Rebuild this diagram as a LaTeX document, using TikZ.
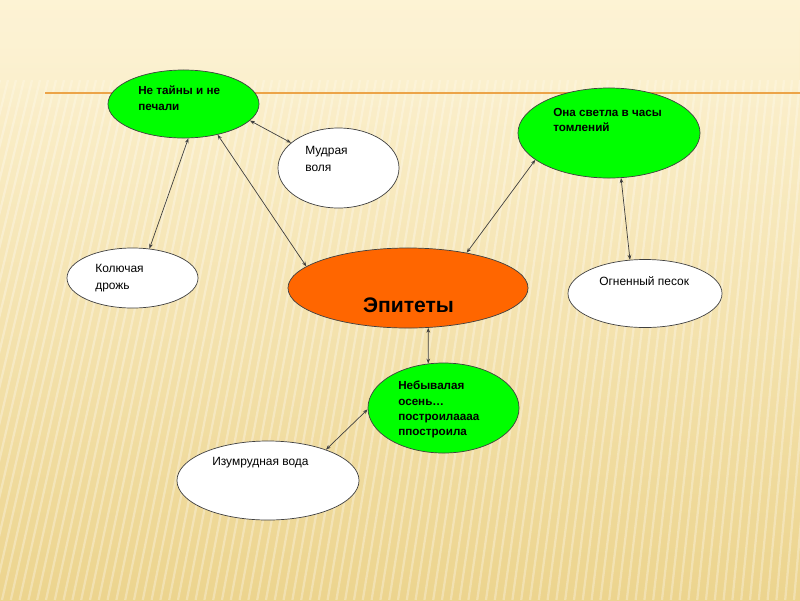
\documentclass[tikz,border=0pt]{standalone}
\usepackage{fontspec}
\setmainfont{Liberation Sans}
\usepackage{tikz}
\usetikzlibrary{arrows.meta,shapes.geometric,fadings}

\definecolor{paperTop}{RGB}{253,243,212}
\definecolor{paperBot}{RGB}{236,212,142}
\definecolor{ruleOrange}{RGB}{236,164,72}
\definecolor{leafGreen}{RGB}{0,255,0}
\definecolor{coreOrange}{RGB}{255,102,0}

\begin{document}
\begin{tikzpicture}[x=0.025cm, y=-0.025cm,
  ell/.style={ellipse, draw=black!75, line width=0.5pt, inner sep=0pt},
  grn/.style={ell, fill=leafGreen},
  wht/.style={ell, fill=white},
  core/.style={ell, fill=coreOrange},
  txt/.style={anchor=north west, inner sep=0pt, align=left, font=\fontsize{8.5}{12}\selectfont},
  btxt/.style={txt, font=\fontsize{8.3}{10.8}\selectfont\bfseries},
  link/.style={{Stealth[length=3.5pt,width=2.6pt]}-{Stealth[length=3.5pt,width=2.6pt]}, draw=black!75, line width=0.5pt}]
  % Background
  \useasboundingbox (0,0) rectangle (800,600);
  \shade[top color=paperTop, bottom color=paperBot] (0,0) rectangle (800,600);
  \begin{scope}
    \clip (0,80) rectangle (800,600);
    \foreach \s in {-200,-192,...,1000}
      \draw[white, opacity=0.3, line width=1.6pt] (\s,80) -- ({1.1*\s-130},600);
  \end{scope}
  \fill[paperTop, path fading=south] (0,0) rectangle (800,125);
  \draw[ruleOrange, line width=1.4pt] (45,93) -- (800,93);
  % Ellipses
  \node[grn, minimum width=3.775cm, minimum height=1.7cm] (tajny) at (183.5,104) {};
  \node[wht, minimum width=3.025cm, minimum height=2cm] (mudraya) at (338.5,168) {};
  \node[grn, minimum width=4.55cm, minimum height=2.25cm] (svetla) at (609,133) {};
  \node[wht, minimum width=3.275cm, minimum height=1.5cm] (kolyuchaya) at (132.5,278) {};
  \node[core, minimum width=6cm, minimum height=2cm] (epitety) at (408,288) {};
  \node[wht, minimum width=3.85cm, minimum height=1.7cm] (ognenny) at (645,293.5) {};
  \node[grn, minimum width=3.775cm, minimum height=2.25cm] (nebyvalaya) at (443.5,408) {};
  \node[wht, minimum width=4.55cm, minimum height=1.975cm] (izumrud) at (268,480.5) {};
  % Texts
  \node[btxt] (tajny-t) at (138,86) {Не тайны и не\\печали};
  \node[txt] (mudraya-t) at (305,146) {Мудрая\\воля};
  \node[btxt] (svetla-t) at (553,108) {Она светла в часы\\томлений};
  \node[txt] (kolyuchaya-t) at (95,264) {Колючая\\дрожь};
  \node[anchor=base, inner sep=0pt, font=\fontsize{15}{18}\selectfont\bfseries] (epitety-t) at (408.5,312) {Эпитеты};
  \node[txt] (ognenny-t) at (599,276) {Огненный песок};
  \node[btxt] (nebyvalaya-t) at (398,381) {Небывалая\\осень…\\построилаааа\\ппостроила};
  \node[txt] (izumrud-t) at (212,457) {Изумрудная вода};
  % Links
  \draw[link] (tajny.-14) -- (mudraya.152);
  \draw[link] (tajny.-82) -- (kolyuchaya.60);
  \draw[link] (tajny.-42) -- (epitety.168);
  \draw[link] (svetla.200) -- (epitety.31);
  \draw[link] (svetla.-75) -- (ognenny.114);
  \draw[link] (epitety.-63) -- (nebyvalaya.109);
  \draw[link] (nebyvalaya.181) -- (izumrud.28);
\end{tikzpicture}
\end{document}
